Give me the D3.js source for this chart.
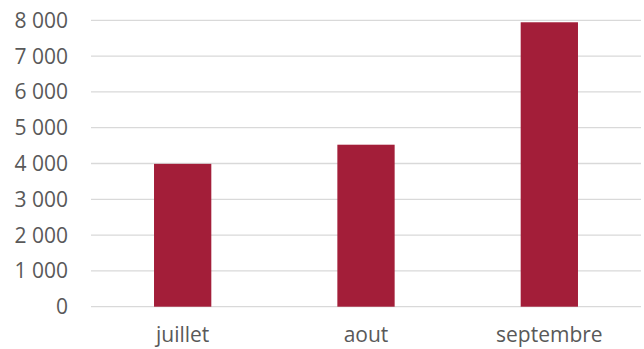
<!DOCTYPE html>
<html>
<head>
<meta charset="utf-8">
<script src="https://cdn.jsdelivr.net/npm/d3@7"></script>
<style>
  html, body { margin: 0; padding: 0; background: #fff; }
  svg { display: block; }
  text { font-family: "Open Sans", sans-serif; fill: #595959; }
</style>
</head>
<body>
<svg id="chart" width="644" height="349"></svg>
<script>
const categories = ["juillet", "aout", "septembre"];
const values = [3990, 4525, 7945];
const yTicks = [0, 1000, 2000, 3000, 4000, 5000, 6000, 7000, 8000];

(function () {
const svg = d3.select("#chart");
const mLeft = 91, mRight = 641, mTop = 20.3, mBottom = 306.7;

const x = d3.scaleBand().domain(categories).range([mLeft, mRight]).padding(0);
const y = d3.scaleLinear().domain([0, 8000]).range([mBottom, mTop]);

const fmt = v => d3.format(",")(v).replace(/,/g, " ");

// gridlines
svg.append("g").selectAll("line").data(yTicks).join("line")
  .attr("x1", mLeft).attr("x2", mRight)
  .attr("y1", d => y(d)).attr("y2", d => y(d))
  .attr("stroke", "#d9d9d9").attr("stroke-width", 1.3);

// y labels
svg.append("g").selectAll("text").data(yTicks).join("text")
  .attr("x", 68).attr("y", d => y(d) + 7.5)
  .attr("text-anchor", "end")
  .style("font-size", "21px")
  .text(d => fmt(d));

// bars
const bw = x.step() * 0.3125;
svg.append("g").selectAll("rect").data(values).join("rect")
  .attr("x", (d, i) => x(categories[i]) + x.bandwidth() / 2 - bw / 2)
  .attr("width", bw)
  .attr("y", d => y(d))
  .attr("height", d => y(0) - y(d))
  .attr("fill", "#a31e39");

// x labels
svg.append("g").selectAll("text").data(categories).join("text")
  .attr("x", d => x(d) + x.bandwidth() / 2)
  .attr("y", 342)
  .attr("text-anchor", "middle")
  .style("font-size", "21px")
  .text(d => d);
})();
</script>
</body>
</html>
